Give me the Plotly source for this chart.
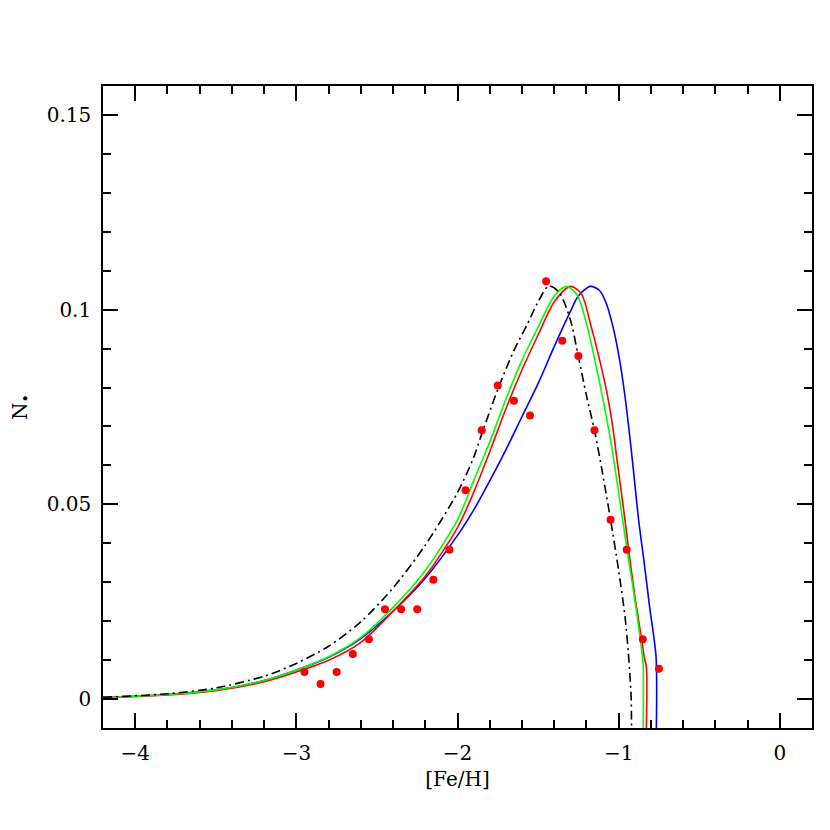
import plotly.graph_objects as go

# observed distribution (red points)
obs_feh = [-2.95, -2.85, -2.75, -2.65, -2.55, -2.45, -2.35, -2.25, -2.15, -2.05,
           -1.95, -1.85, -1.75, -1.65, -1.55, -1.45, -1.35, -1.25, -1.15, -1.05,
           -0.95, -0.85, -0.75]
obs_n = [0.0069, 0.0038, 0.0069, 0.0115, 0.0153, 0.0230, 0.0230, 0.0230, 0.0306, 0.0383,
         0.0536, 0.0690, 0.0805, 0.0766, 0.0728, 0.1073, 0.0920, 0.0881, 0.0690, 0.0460,
         0.0383, 0.0153, 0.0077]

# model curves
black_x = [-4.2, -3.8, -3.5, -3.2, -3.0, -2.8, -2.6, -2.4, -2.2, -2.0, -1.9, -1.85,
           -1.75, -1.65, -1.57, -1.5, -1.434, -1.37, -1.3, -1.25, -1.2, -1.15,
           -1.1, -1.05, -1.0, -0.96, -0.94, -0.93, -0.922, -0.92]
black_y = [0.0004, 0.0013, 0.0028, 0.0058, 0.0091, 0.0135, 0.0198, 0.0285, 0.0395, 0.0530, 0.0620, 0.0680,
           0.0795, 0.0895, 0.0960, 0.1020, 0.1061, 0.1045, 0.0975, 0.0880, 0.0780, 0.0690,
           0.0580, 0.0460, 0.0330, 0.0210, 0.0120, 0.0060, 0.0000, -0.0075]

green_x = [-4.2, -3.8, -3.5, -3.2, -3.0, -2.8, -2.6, -2.4, -2.2, -2.0, -1.9, -1.8,
           -1.7, -1.6, -1.5, -1.4, -1.325, -1.26, -1.2, -1.15, -1.1, -1.05,
           -1.0, -0.95, -0.9, -0.865, -0.85, -0.847, -0.847]
green_y = [0.0003, 0.0011, 0.0023, 0.0047, 0.0074, 0.0108, 0.0158, 0.0235, 0.0330, 0.0460, 0.0560, 0.0660,
           0.0770, 0.0870, 0.0955, 0.1035, 0.1060, 0.1040, 0.0965, 0.0875, 0.0775, 0.0665,
           0.0530, 0.0390, 0.0255, 0.0152, 0.0100, 0.0083, -0.0075]

red_x = [-4.2, -3.8, -3.5, -3.2, -3.0, -2.8, -2.6, -2.4, -2.2, -2.0, -1.9, -1.8,
         -1.7, -1.6, -1.5, -1.4, -1.3, -1.233, -1.17, -1.118, -1.072, -1.037,
         -1.01, -0.97, -0.938, -0.9, -0.86, -0.84, -0.828, -0.828]
red_y = [0.0003, 0.0010, 0.0021, 0.0044, 0.0069, 0.0099, 0.0145, 0.0225, 0.0315, 0.0440, 0.0530, 0.0635,
         0.0745, 0.0845, 0.0935, 0.1020, 0.1060, 0.1042, 0.0956, 0.0871, 0.0785, 0.0700,
         0.0614, 0.0490, 0.0383, 0.0265, 0.0160, 0.0105, 0.0083, -0.0075]

blue_x = [-4.2, -3.8, -3.5, -3.2, -3.0, -2.8, -2.6, -2.4, -2.2, -2.0, -1.9, -1.8,
          -1.7, -1.6, -1.5, -1.4, -1.3, -1.25, -1.176, -1.12, -1.08, -1.035,
          -0.994, -0.963, -0.938, -0.915, -0.876, -0.84, -0.808, -0.768, -0.766]
blue_y = [0.0003, 0.0011, 0.0023, 0.0047, 0.0074, 0.0107, 0.0155, 0.0225, 0.0310, 0.0420, 0.0485, 0.0560,
          0.0640, 0.0725, 0.0810, 0.0905, 0.0995, 0.1035, 0.1060, 0.1050, 0.1020, 0.0956,
          0.0871, 0.0785, 0.0700, 0.0614, 0.0460, 0.0345, 0.0237, 0.0109, -0.0075]

fig = go.Figure()

for xs, ys, col in [(blue_x, blue_y, "#0000ff"), (red_x, red_y, "#ff0000"),
                    (green_x, green_y, "#00ff00")]:
    fig.add_trace(go.Scatter(x=xs, y=ys, mode="lines",
                             line=dict(color=col, width=1.6, shape="spline", smoothing=0.8),
                             hoverinfo="skip"))

fig.add_trace(go.Scatter(x=black_x, y=black_y, mode="lines",
                         line=dict(color="black", width=1.6, dash="9px,4px,2px,4px",
                                   shape="spline", smoothing=0.8),
                         hoverinfo="skip"))

fig.add_trace(go.Scatter(x=obs_feh, y=obs_n, mode="markers",
                         marker=dict(color="#ff0000", size=8, line=dict(width=0))))

axis_common = dict(
    showgrid=False, zeroline=False, showline=True, linecolor="black", linewidth=1.6,
    mirror="ticks", ticks="inside", ticklen=15, tickwidth=1.5, tickcolor="black",
    tickfont=dict(family="DejaVu Serif", size=20, color="black"),
    ticklabelstandoff=6, automargin=False,
)

fig.update_layout(
    width=814, height=814,
    plot_bgcolor="white", paper_bgcolor="white",
    showlegend=False,
    margin=dict(l=95, r=10, t=78, b=94),
    xaxis=dict(range=[-4.2, 0.2], tickvals=[-4, -3, -2, -1, 0],
               ticktext=["\u22124", "\u22123", "\u22122", "\u22121", "0"],
               minor=dict(ticks="inside", ticklen=8, dtick=0.2, tick0=0, tickcolor="black", tickwidth=1.5),
               title=dict(text="[Fe/H]", font=dict(family="DejaVu Serif", size=20, color="black"),
                          standoff=8),
               **axis_common),
    yaxis=dict(range=[-0.0075, 0.1575], tickvals=[0, 0.05, 0.1, 0.15],
               ticktext=["0", "0.05", "0.1", "0.15"],
               minor=dict(ticks="inside", ticklen=8, dtick=0.01, tick0=0, tickcolor="black", tickwidth=1.5),
               title=dict(text="N<sub>\u2022</sub>", font=dict(family="DejaVu Serif", size=20, color="black"),
                          standoff=14),
               **axis_common),
)

fig.write_html("out.html")
